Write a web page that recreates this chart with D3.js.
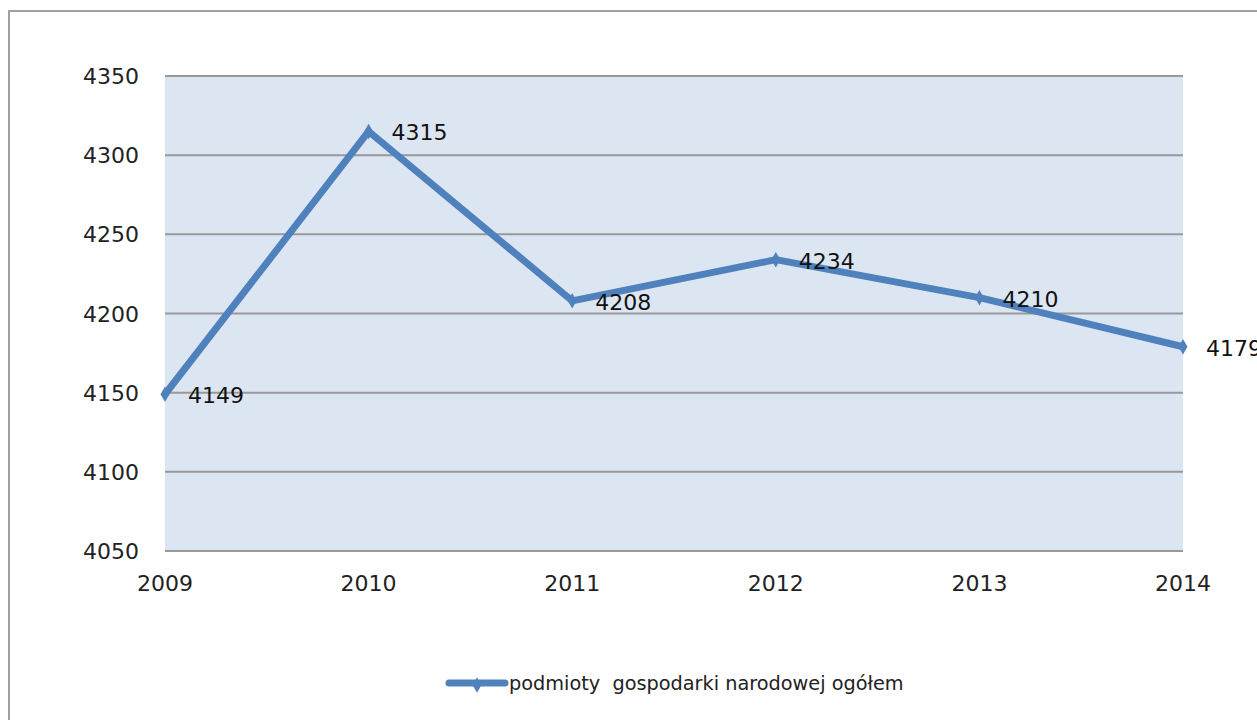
<!DOCTYPE html>
<html>
<head>
<meta charset="utf-8">
<script src="https://cdn.jsdelivr.net/npm/d3@7"></script>
<style>
  body { margin: 0; background: #fff; }
  svg { display: block; font-family: "DejaVu Sans", Verdana, sans-serif; }
</style>
</head>
<body>
<svg id="chart" width="1257" height="720"></svg>
<script>
// data
const years = ['2009', '2010', '2011', '2012', '2013', '2014'];
const values = [4149, 4315, 4208, 4234, 4210, 4179];
const yTicks = [4050, 4100, 4150, 4200, 4250, 4300, 4350];
const seriesName = 'podmioty  gospodarki narodowej ogółem';

const svg = d3.select('#chart');
const blue = '#4F81BD';

// outer chart frame (runs off the right and bottom)
svg.append('rect')
    .attr('x', 9).attr('y', 11)
    .attr('width', 1260).attr('height', 720)
    .attr('fill', 'none')
    .attr('stroke', '#a0a0a0')
    .attr('stroke-width', 2);

const plot = { left: 165, right: 1183, top: 76, bottom: 551 };

const x = d3.scalePoint()
    .domain(years)
    .range([plot.left, plot.right]);

const y = d3.scaleLinear()
    .domain([4050, 4350])
    .range([plot.bottom, plot.top]);

// plot background
svg.append('rect')
    .attr('x', plot.left).attr('y', plot.top)
    .attr('width', plot.right - plot.left)
    .attr('height', plot.bottom - plot.top)
    .attr('fill', '#DCE6F2');

// gridlines
svg.append('g')
    .selectAll('line')
    .data(yTicks)
    .join('line')
    .attr('x1', plot.left)
    .attr('x2', plot.right)
    .attr('y1', d => y(d))
    .attr('y2', d => y(d))
    .attr('stroke', '#999')
    .attr('stroke-width', 2);

// y axis labels
svg.append('g')
    .selectAll('text')
    .data(yTicks)
    .join('text')
    .attr('x', 139)
    .attr('y', d => y(d) + 8)
    .attr('text-anchor', 'end')
    .attr('font-size', 22)
    .attr('fill', '#222')
    .text(d => d);

// x axis labels
svg.append('g')
    .selectAll('text')
    .data(years)
    .join('text')
    .attr('x', d => x(d))
    .attr('y', 591)
    .attr('text-anchor', 'middle')
    .attr('font-size', 22)
    .attr('fill', '#222')
    .text(d => d);

const points = years.map((yr, i) => ({ year: yr, value: values[i] }));

// series line
const line = d3.line()
    .x(d => x(d.year))
    .y(d => y(d.value));

svg.append('path')
    .datum(points)
    .attr('d', line)
    .attr('fill', 'none')
    .attr('stroke', blue)
    .attr('stroke-width', 7)
    .attr('stroke-linejoin', 'round');

// diamond markers
const diamond = d3.symbol().type(d3.symbolDiamond).size(70);
svg.append('g')
    .selectAll('path')
    .data(points)
    .join('path')
    .attr('d', diamond)
    .attr('transform', d => `translate(${x(d.year)},${y(d.value)})`)
    .attr('fill', blue);

// data labels (the last one runs past the frame edge, as in the original)
svg.append('g')
    .selectAll('text')
    .data(points)
    .join('text')
    .attr('x', d => x(d.year) + 23)
    .attr('y', d => y(d.value) + 9)
    .attr('font-size', 22)
    .attr('fill', '#111')
    .text(d => d.value);

// legend
const legend = svg.append('g');
legend.append('line')
    .attr('x1', 449).attr('x2', 505)
    .attr('y1', 683).attr('y2', 683)
    .attr('stroke', blue)
    .attr('stroke-width', 7)
    .attr('stroke-linecap', 'round');
legend.append('path')
    .attr('d', diamond)
    .attr('transform', 'translate(477,685)')
    .attr('fill', blue);
legend.append('text')
    .attr('x', 509)
    .attr('y', 690)
    .attr('font-size', 19.3)
    .attr('fill', '#222')
    .style('white-space', 'pre')
    .text(seriesName);
</script>
</body>
</html>
